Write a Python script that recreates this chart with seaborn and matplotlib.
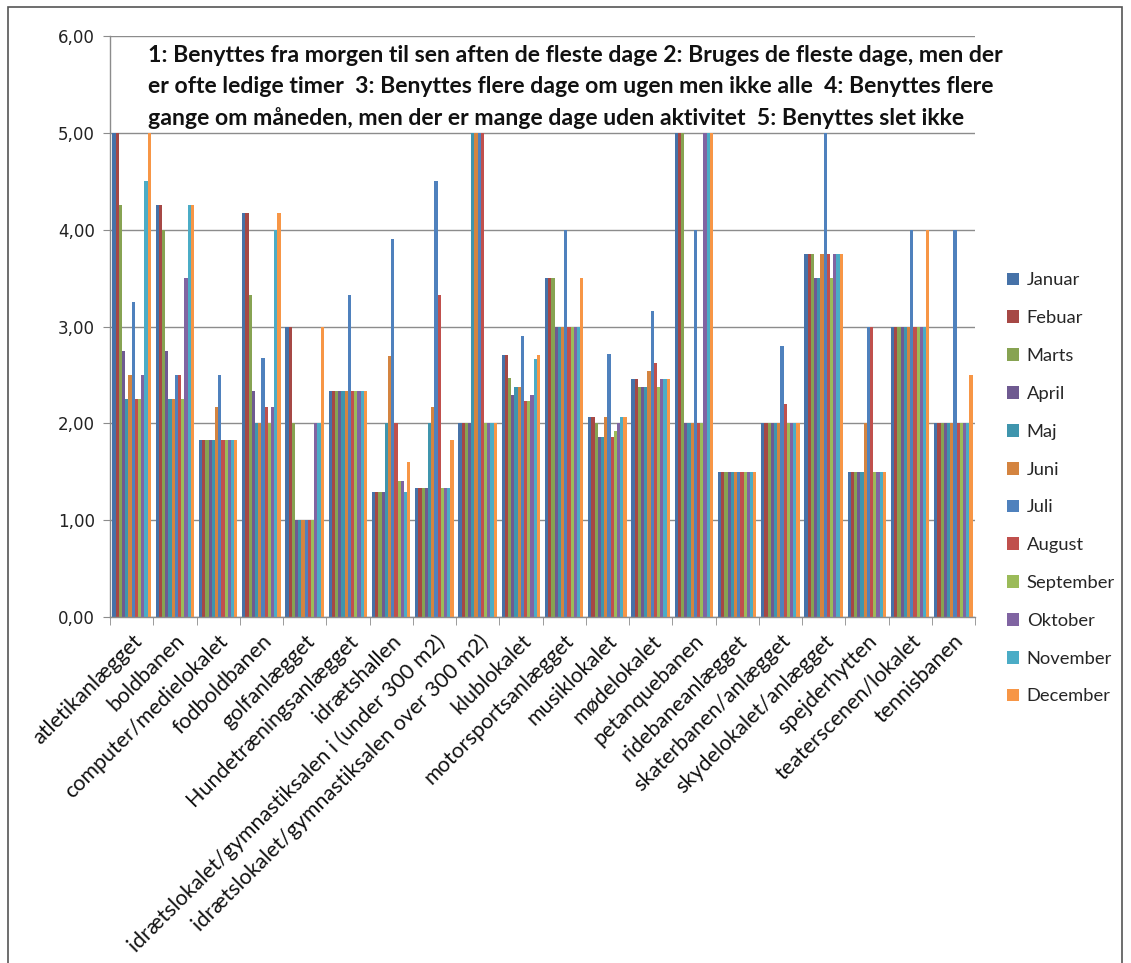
import numpy as np
import pandas as pd
import seaborn as sns
import matplotlib.pyplot as plt
from matplotlib.patches import Rectangle
from matplotlib.ticker import FixedLocator, FuncFormatter

# categories (facilities) and series (months)
facilities = ["atletikanlægget", "boldbanen", "computer/medielokalet", "fodboldbanen",
              "golfanlægget", "Hundetræningsanlægget", "idrætshallen",
              "idrætslokalet/gymnastiksalen i (under 300 m2)",
              "idrætslokalet/gymnastiksalen over 300 m2)", "klublokalet",
              "motorsportsanlægget", "musiklokalet", "mødelokalet", "petanquebanen",
              "ridebaneanlægget", "skaterbanen/anlægget", "skydelokalet/anlægget",
              "spejderhytten", "teaterscenen/lokalet", "tennisbanen"]
months = ["Januar", "Febuar", "Marts", "April", "Maj", "Juni", "Juli", "August",
          "September", "Oktober", "November", "December"]

januar    = [5.00, 4.25, 1.83, 4.17, 3.00, 2.33, 1.29, 1.33, 2.00, 2.71, 3.50, 2.07, 2.46, 5.00, 1.50, 2.00, 3.75, 1.50, 3.00, 2.00]
febuar    = [5.00, 4.25, 1.83, 4.17, 3.00, 2.33, 1.29, 1.33, 2.00, 2.71, 3.50, 2.07, 2.46, 5.00, 1.50, 2.00, 3.75, 1.50, 3.00, 2.00]
marts     = [4.25, 4.00, 1.83, 3.33, 2.00, 2.33, 1.29, 1.33, 2.00, 2.47, 3.50, 2.00, 2.38, 5.00, 1.50, 2.00, 3.75, 1.50, 3.00, 2.00]
april     = [2.75, 2.75, 1.83, 2.33, 1.00, 2.33, 1.29, 1.33, 2.00, 2.29, 3.00, 1.86, 2.38, 2.00, 1.50, 2.00, 3.50, 1.50, 3.00, 2.00]
maj       = [2.25, 2.25, 1.83, 2.00, 1.00, 2.33, 2.00, 2.00, 5.00, 2.38, 3.00, 1.86, 2.38, 2.00, 1.50, 2.00, 3.50, 1.50, 3.00, 2.00]
juni      = [2.50, 2.25, 2.17, 2.00, 1.00, 2.33, 2.70, 2.17, 5.00, 2.38, 3.00, 2.07, 2.54, 2.00, 1.50, 2.00, 3.75, 2.00, 3.00, 2.00]
juli      = [3.25, 2.50, 2.50, 2.67, 1.00, 3.33, 3.90, 4.50, 5.00, 2.90, 4.00, 2.72, 3.16, 4.00, 1.50, 2.80, 5.00, 3.00, 4.00, 4.00]
august    = [2.25, 2.50, 1.83, 2.17, 1.00, 2.33, 2.00, 3.33, 5.00, 2.23, 3.00, 1.86, 2.62, 2.00, 1.50, 2.20, 3.75, 3.00, 3.00, 2.00]
september = [2.25, 2.25, 1.83, 2.00, 1.00, 2.33, 1.40, 1.33, 2.00, 2.23, 3.00, 1.92, 2.38, 2.00, 1.50, 2.00, 3.50, 1.50, 3.00, 2.00]
oktober   = [2.50, 3.50, 1.83, 2.17, 2.00, 2.33, 1.40, 1.33, 2.00, 2.29, 3.00, 2.00, 2.46, 5.00, 1.50, 2.00, 3.75, 1.50, 3.00, 2.00]
november  = [4.50, 4.25, 1.83, 4.00, 2.00, 2.33, 1.29, 1.33, 2.00, 2.66, 3.00, 2.07, 2.46, 5.00, 1.50, 2.00, 3.75, 1.50, 3.00, 2.00]
december  = [5.00, 4.25, 1.83, 4.17, 3.00, 2.33, 1.60, 1.83, 2.00, 2.71, 3.50, 2.07, 2.46, 5.00, 1.50, 2.00, 3.75, 1.50, 4.00, 2.50]

series = [januar, febuar, marts, april, maj, juni, juli, august, september, oktober, november, december]
colors = ["#4672A8", "#A64845", "#87A352", "#6F5A91", "#3F95AD", "#D48440",
          "#4F81BD", "#C0504D", "#9BBB59", "#8064A2", "#4BACC6", "#F79646"]

note = ("1: Benyttes fra morgen til sen aften de fleste dage 2: Bruges de fleste dage, men der\n"
        "er ofte ledige timer  3: Benyttes flere dage om ugen men ikke alle  4: Benyttes flere\n"
        "gange om måneden, men der er mange dage uden aktivitet  5: Benyttes slet ikke")

rows = []
for m, vals in zip(months, series):
    for f, v in zip(facilities, vals):
        rows.append({"facility": f, "month": m, "value": v})
df = pd.DataFrame(rows)

sns.set_style("white")
plt.rcParams["font.family"] = ["Lato", "DejaVu Sans"]

W, H = 1131, 963
fig = plt.figure(figsize=(W / 100, H / 100), dpi=100)
ax = fig.add_axes([110 / W, 1 - 617 / H, (975 - 110) / W, (617 - 36) / H])

sns.barplot(data=df, x="facility", y="value", hue="month", order=facilities,
            hue_order=months, palette=colors, width=0.885, gap=0, linewidth=0,
            saturation=1, ax=ax, legend=True)

ax.set_ylim(0, 6)
ax.set_xlim(-0.5, len(facilities) - 0.5)
ax.yaxis.set_major_locator(FixedLocator(np.arange(0, 7, 1)))
ax.yaxis.set_major_formatter(FuncFormatter(lambda v, p: f"{v:.2f}".replace(".", ",")))
ax.grid(axis="y", color="#8c8c8c", linewidth=1)
ax.set_axisbelow(True)
ax.set_xlabel("")
ax.set_ylabel("")
for s in ["top", "right"]:
    ax.spines[s].set_visible(False)
for s in ["left", "bottom"]:
    ax.spines[s].set_color("#8c8c8c")
    ax.spines[s].set_linewidth(1)

ax.tick_params(axis="y", which="major", length=5, color="#8c8c8c", left=True, pad=6)
for lab in ax.get_yticklabels():
    lab.set_family("DejaVu Sans")
    lab.set_fontsize(12)
    lab.set_color("#222222")
ax.set_xticks(np.arange(len(facilities)))
ax.set_xticklabels(facilities, rotation=45, ha="right", rotation_mode="anchor",
                   fontsize=15.5, color="#111111")
ax.tick_params(axis="x", which="major", length=0, pad=10)
ax.set_xticks(np.arange(-0.5, len(facilities)), minor=True)
ax.tick_params(axis="x", which="minor", length=6, color="#8c8c8c", bottom=True)

fig.text(148 / W, 1 - 45 / H, note, ha="left", va="top",
         fontsize=16.6, fontweight="bold", linespacing=1.56, color="#111111")

leg = ax.legend(loc="upper left", bbox_to_anchor=(990 / W, 1 - 256 / H),
                bbox_transform=fig.transFigure, frameon=False, fontsize=13.2,
                handlelength=0.7, handleheight=0.7, handletextpad=0.4,
                labelspacing=1.19)

fig.patches.append(Rectangle((8 / W, -0.1), (1122 - 8) / W, 1.1 - 7 / H,
                             transform=fig.transFigure, fill=False,
                             edgecolor="#555555", linewidth=1.2))

fig.savefig("out.png", dpi=100)
